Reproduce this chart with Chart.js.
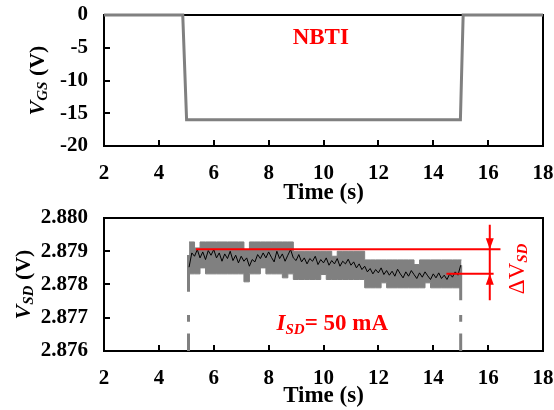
<!DOCTYPE html>
<html><head><meta charset="utf-8">
<script src="https://cdn.jsdelivr.net/npm/chart.js@4"></script>
<style>
html,body{margin:0;padding:0;background:#fff;width:554px;height:410px;overflow:hidden}
.box{position:absolute;left:0;width:554px;height:205px}
</style></head><body>
<div class="box" style="top:0"><canvas id="c1" width="554" height="205"></canvas></div>
<div class="box" style="top:205px"><canvas id="c2" width="554" height="205"></canvas></div>
<script>
// ---------- data ----------
const timeTicks = [2, 4, 6, 8, 10, 12, 14, 16, 18];
const vgsTicks = [-20, -15, -10, -5, 0];
const vsdTicks = [2.876, 2.877, 2.878, 2.879, 2.880];

// gate voltage pulse
const gateTime = [2, 4.87, 5.01, 14.99, 15.09, 18];
const gateVoltage = [0, 0, -16, -16, 0, 0];

// gray raw trace envelope (stepped)
const bandTime = [5.1,5.3,5.5,5.7,5.9,6.1,6.3,6.5,6.7,6.9,7.1,7.3,7.5,7.7,7.9,8.1,8.3,8.5,8.7,8.9,
  9.1,9.3,9.5,9.7,9.9,10.1,10.3,10.5,10.7,10.9,11.1,11.3,11.5,11.7,11.9,12.1,12.3,12.5,12.7,12.9,
  13.1,13.3,13.5,13.7,13.9,14.1,14.3,14.5,14.7,14.9,15.03];
const bandUpper = [2.87928,2.87928,2.87910,2.87928,2.87928,2.87928,2.87928,2.87928,2.87928,2.87928,
  2.87928,2.87905,2.87928,2.87928,2.87928,2.87928,2.87928,2.87928,2.87928,2.87928,
  2.87900,2.87900,2.87900,2.87900,2.87900,2.87900,2.87900,2.87885,2.87900,2.87900,
  2.87900,2.87900,2.87900,2.87874,2.87874,2.87874,2.87874,2.87874,2.87874,2.87874,
  2.87874,2.87874,2.87860,2.87874,2.87874,2.87874,2.87874,2.87874,2.87874,2.87874,2.87874];
const bandLower = [2.87832,2.87832,2.87832,2.87850,2.87832,2.87832,2.87832,2.87832,2.87832,2.87832,
  2.87832,2.87808,2.87832,2.87832,2.87850,2.87832,2.87832,2.87832,2.87820,2.87832,
  2.87815,2.87815,2.87815,2.87815,2.87815,2.87830,2.87815,2.87815,2.87815,2.87815,
  2.87815,2.87815,2.87815,2.87790,2.87790,2.87790,2.87805,2.87790,2.87790,2.87790,
  2.87790,2.87790,2.87790,2.87790,2.87805,2.87790,2.87790,2.87790,2.87790,2.87790,2.87790];

// black averaged trace
const blackTime = [5.1,5.2,5.3,5.4,5.5,5.6,5.7,5.8,5.9,6.0,6.1,6.2,6.3,6.4,6.5,6.6,6.7,6.8,6.9,7.0,
  7.1,7.2,7.3,7.4,7.5,7.6,7.7,7.8,7.9,8.0,8.1,8.2,8.3,8.4,8.5,8.6,8.7,8.8,8.9,9.0,
  9.1,9.2,9.3,9.4,9.5,9.6,9.7,9.8,9.9,10.0,10.1,10.2,10.3,10.4,10.5,10.6,10.7,10.8,10.9,11.0,
  11.1,11.2,11.3,11.4,11.5,11.6,11.7,11.8,11.9,12.0,12.1,12.2,12.3,12.4,12.5,12.6,12.7,12.8,12.9,13.0,
  13.1,13.2,13.3,13.4,13.5,13.6,13.7,13.8,13.9,14.0,14.1,14.2,14.3,14.4,14.5,14.6,14.7,14.8,14.9,15.0];
const blackVoltage = [2.87852,2.87895,2.87885,2.87905,2.87880,2.87898,2.87875,2.87902,2.87888,2.87905,
  2.87880,2.87895,2.87870,2.87892,2.87878,2.87900,2.87872,2.87888,2.87865,2.87885,
  2.87870,2.87880,2.87855,2.87875,2.87868,2.87890,2.87878,2.87895,2.87880,2.87898,
  2.87882,2.87868,2.87900,2.87878,2.87892,2.87870,2.87888,2.87905,2.87880,2.87872,
  2.87890,2.87868,2.87880,2.87862,2.87878,2.87870,2.87885,2.87860,2.87875,2.87865,
  2.87880,2.87858,2.87872,2.87862,2.87878,2.87855,2.87870,2.87862,2.87876,2.87858,
  2.87868,2.87850,2.87862,2.87845,2.87855,2.87838,2.87848,2.87832,2.87845,2.87835,
  2.87850,2.87830,2.87842,2.87828,2.87840,2.87825,2.87846,2.87832,2.87820,2.87838,
  2.87825,2.87842,2.87830,2.87818,2.87835,2.87822,2.87838,2.87826,2.87815,2.87832,
  2.87820,2.87835,2.87818,2.87828,2.87815,2.87832,2.87822,2.87838,2.87828,2.87858];

// switching edges of the raw trace (broken vertical lines)
const breakLeftTime = 5.08;
const breakLeftLevels = [2.87889, 2.87778, null, 2.87708, 2.87688, null, 2.87653, 2.8755];
const breakRightTime = 15.0;
const breakRightLevels = [2.87858, 2.87753, null, 2.87708, 2.87688, null, 2.87653, 2.8755];

// delta V_SD markers
const refLineTime = [5.35, 16.45];
const refLineLevel = [2.87906, 2.87906];
const endLineTime = [14.48, 16.2];
const endLineLevel = [2.87832, 2.87832];
const arrowTime = [16.06, 16.06];
const arrowLevel = [2.8798, 2.87753];

// ---------- helpers ----------
const SERIF = "'Liberation Serif','Times New Roman',serif";
const GRAY = '#808080';
const RED = '#ff0000';
const pts = (xs, ys) => xs.map((x, i) => ({x: x, y: ys[i]}));
const vpts = (x, ys) => ys.map(y => ({x: x, y: y}));

function drawRich(ctx, parts, x, y, opt) {
  opt = opt || {};
  ctx.save();
  ctx.translate(x, y);
  if (opt.rotate) ctx.rotate(opt.rotate);
  let w = 0;
  parts.forEach(p => { ctx.font = p.font; p.w = ctx.measureText(p.t).width; w += p.w; });
  let cx = opt.align === 'left' ? 0 : opt.align === 'right' ? -w : -w / 2;
  ctx.fillStyle = opt.color || '#000';
  ctx.textBaseline = opt.baseline || 'alphabetic';
  ctx.textAlign = 'left';
  parts.forEach(p => { ctx.font = p.font; ctx.fillText(p.t, cx, p.dy || 0); cx += p.w; });
  ctx.restore();
}

const framePlugin = {
  id: 'frame',
  beforeDatasetsDraw(chart) {
    const {ctx, chartArea: a, scales: {x, y}} = chart;
    ctx.save();
    ctx.strokeStyle = '#000';
    ctx.lineWidth = 2;
    ctx.strokeRect(a.left, a.top, a.right - a.left, a.bottom - a.top);
    ctx.beginPath();
    x.ticks.forEach(t => {
      if (t.value > x.min && t.value < x.max) {
        const px = Math.round(x.getPixelForValue(t.value));
        ctx.moveTo(px, a.bottom); ctx.lineTo(px, a.bottom - 6);
      }
    });
    y.ticks.forEach(t => {
      if (t.value > y.min + 1e-9 && t.value < y.max - 1e-9) {
        const py = Math.round(y.getPixelForValue(t.value));
        ctx.moveTo(a.left, py); ctx.lineTo(a.left + 6, py);
      }
    });
    ctx.stroke();
    ctx.restore();
  }
};

function makeOptions(yMin, yMax, yTicks, yFmt, padTop, titlePadBottom) {
  return {
    responsive: false,
    animation: false,
    events: [],
    layout: {padding: {left: 0, right: 11, top: padTop, bottom: 0}},
    plugins: {legend: {display: false}, tooltip: {enabled: false}},
    scales: {
      x: {
        type: 'linear', min: 2, max: 18,
        afterBuildTicks: s => { s.ticks = timeTicks.map(v => ({value: v})); },
        afterFit: s => { s.height = 59; },
        grid: {display: false, drawTicks: true, tickLength: 15},
        border: {display: false},
        ticks: {color: '#000', padding: 0, font: {family: SERIF, size: 21, weight: 'bold'},
                maxRotation: 0, autoSkip: false, callback: v => String(v)},
        title: {display: true, text: 'Time (s)', color: '#000',
                font: {family: SERIF, size: 23, weight: 'bold'},
                padding: {top: 0, bottom: titlePadBottom}}
      },
      y: {
        type: 'linear', min: yMin, max: yMax,
        afterBuildTicks: s => { s.ticks = yTicks.map(v => ({value: v})); },
        afterFit: s => { s.width = 104; },
        grid: {display: false, drawTicks: true, tickLength: 16},
        border: {display: false},
        ticks: {color: '#000', padding: 0, font: {family: SERIF, size: 21, weight: 'bold'},
                autoSkip: false, callback: yFmt}
      }
    }
  };
}

// ---------- top chart ----------
const topText = {
  id: 'topText',
  afterDatasetsDraw(chart) {
    const {ctx, chartArea: a, scales: {x, y}} = chart;
    drawRich(ctx, [
      {t: 'V', font: `italic bold 22px ${SERIF}`},
      {t: 'GS', font: `italic bold 15px ${SERIF}`, dy: 5},
      {t: ' (V)', font: `bold 22px ${SERIF}`}
    ], a.left - 66, (a.top + a.bottom) / 2, {rotate: -Math.PI / 2, baseline: 'middle'});
    drawRich(ctx, [{t: 'NBTI', font: `bold 23px ${SERIF}`}],
      x.getPixelForValue(9.9), y.getPixelForValue(-4.43), {color: RED});
  }
};

new Chart(document.getElementById('c1'), {
  type: 'line',
  data: {datasets: [{
    data: pts(gateTime, gateVoltage),
    borderColor: GRAY, borderWidth: 3, pointRadius: 0, tension: 0,
    borderJoinStyle: 'miter', fill: false, clip: 4
  }]},
  options: makeOptions(-20, 0, vgsTicks, v => String(v), 15, -2),
  plugins: [framePlugin, topText]
});

// ---------- bottom chart ----------
const bottomText = {
  id: 'bottomText',
  afterDatasetsDraw(chart) {
    const {ctx, chartArea: a, scales: {x, y}} = chart;
    drawRich(ctx, [
      {t: 'V', font: `italic bold 22px ${SERIF}`},
      {t: 'SD', font: `italic bold 15px ${SERIF}`, dy: 5},
      {t: ' (V)', font: `bold 22px ${SERIF}`}
    ], a.left - 80, (a.top + a.bottom) / 2, {rotate: -Math.PI / 2, baseline: 'middle'});
    drawRich(ctx, [
      {t: 'I', font: `italic bold 23px ${SERIF}`},
      {t: 'SD', font: `italic bold 15px ${SERIF}`, dy: 4},
      {t: '= 50 mA', font: `bold 23px ${SERIF}`}
    ], x.getPixelForValue(8.29), y.getPixelForValue(2.87663), {align: 'left', color: RED});
    drawRich(ctx, [
      {t: '\u0394V', font: `23px ${SERIF}`},
      {t: 'SD', font: `italic bold 15px ${SERIF}`, dy: 5}
    ], x.getPixelForValue(17.09), y.getPixelForValue(2.87847),
      {rotate: -Math.PI / 2, baseline: 'middle', color: RED});
    // arrowheads
    const ax = x.getPixelForValue(arrowTime[0]);
    const tipTop = y.getPixelForValue(refLineLevel[0]);
    const tipBot = y.getPixelForValue(endLineLevel[0]);
    ctx.save();
    ctx.fillStyle = RED;
    ctx.beginPath();
    ctx.moveTo(ax, tipTop); ctx.lineTo(ax - 4, tipTop - 11); ctx.lineTo(ax + 4, tipTop - 11); ctx.closePath();
    ctx.moveTo(ax, tipBot); ctx.lineTo(ax - 4, tipBot + 11); ctx.lineTo(ax + 4, tipBot + 11); ctx.closePath();
    ctx.fill();
    ctx.restore();
  }
};

const lineDs = (data, color, width, extra) => Object.assign({
  data: data, borderColor: color, borderWidth: width, pointRadius: 0,
  tension: 0, fill: false, spanGaps: false
}, extra || {});

new Chart(document.getElementById('c2'), {
  type: 'line',
  data: {datasets: [
    lineDs(pts(refLineTime, refLineLevel), RED, 2),
    lineDs(pts(endLineTime, endLineLevel), RED, 2),
    lineDs(pts(arrowTime, arrowLevel), RED, 2),
    lineDs(pts(blackTime, blackVoltage), '#000', 1),
    lineDs(vpts(breakLeftTime, breakLeftLevels), GRAY, 3, {borderCapStyle: 'butt'}),
    lineDs(vpts(breakRightTime, breakRightLevels), GRAY, 3, {borderCapStyle: 'butt'}),
    lineDs(pts(bandTime, bandUpper), GRAY, 1, {stepped: 'after'}),
    lineDs(pts(bandTime, bandLower), GRAY, 1, {stepped: 'after', fill: '-1', backgroundColor: GRAY})
  ]},
  options: makeOptions(2.876, 2.880, vsdTicks, v => Number(v).toFixed(3), 13, 0),
  plugins: [framePlugin, bottomText]
});
</script>
</body></html>
